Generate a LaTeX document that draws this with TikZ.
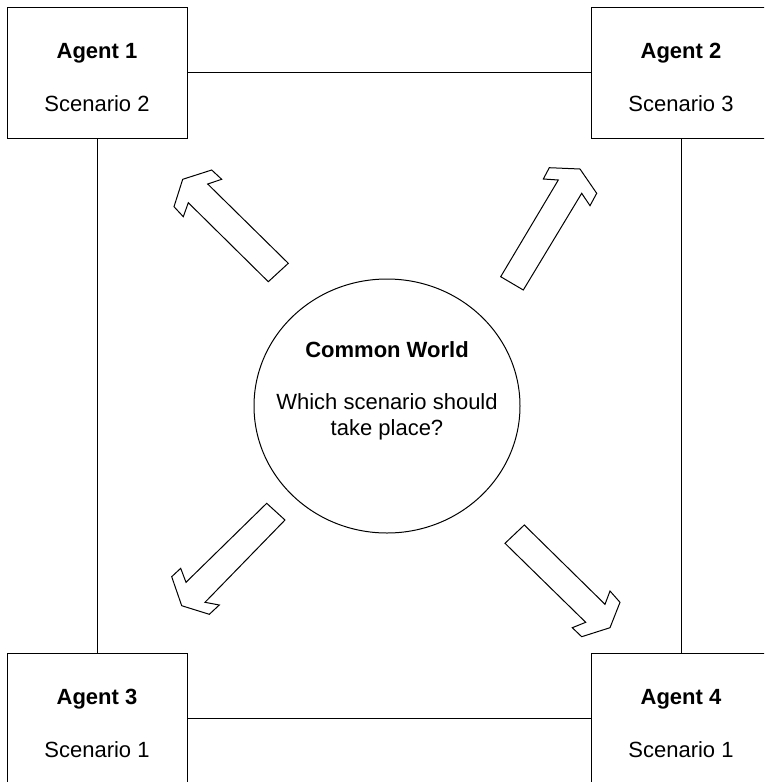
\documentclass[tikz,border=0pt]{standalone}
\usepackage{fontspec}
\setmainfont{Liberation Sans}
\begin{document}
\begin{tikzpicture}[x=1pt,y=-1pt,line width=1pt,
  agentbox/.style={draw,rectangle,minimum width=180pt,minimum height=131pt,inner sep=0pt},
  title/.style={anchor=base,font=\fontsize{22}{26}\selectfont\bfseries},
  sublabel/.style={anchor=base,font=\fontsize{22}{26}\selectfont},
  blockarrow/.style={draw,line width=1pt,line join=miter}]
\useasboundingbox (0,0) rectangle (764,782);
\clip (0,0) rectangle (764,782);

% agent boxes
\node[agentbox] (a1) at (97,72.5) {};
\node[agentbox] (a2) at (681,72.5) {};
\node[agentbox] (a3) at (97,718.5) {};
\node[agentbox] (a4) at (681,718.5) {};

\node[title] (t1) at (97,58) {Agent 1};
\node[sublabel] (s1) at (97,111) {Scenario 2};
\node[title] (t2) at (681,58) {Agent 2};
\node[sublabel] (s2) at (681,111) {Scenario 3};
\node[title] (t3) at (97,704) {Agent 3};
\node[sublabel] (s3) at (97,757) {Scenario 1};
\node[title] (t4) at (681,704) {Agent 4};
\node[sublabel] (s4) at (681,757) {Scenario 1};

% links between the agents
\draw (a1.east) -- (a2.west);
\draw (a3.east) -- (a4.west);
\draw (a1.south) -- (a3.north);
\draw (a2.south) -- (a4.north);

% common world
\draw (387,406) ellipse [x radius=133, y radius=127];
\node[title] (cw) at (387,357) {Common World};
\node[sublabel] (q1) at (387,409) {Which scenario should};
\node[sublabel] (q2) at (387,435) {take place?};

% block arrows out of the common world
\draw[blockarrow] (288.3,263.3) -- (207.7,184) -- (221.7,179.3) -- (211.7,170)
  -- (182.7,179.3) -- (174,206.7) -- (183.3,216.7) -- (188.3,202.7) -- (268.3,281.7) -- cycle;
\draw[blockarrow] (523.3,290) -- (581.7,193.3) -- (590,205.7) -- (596.7,193.3)
  -- (580,169) -- (549.3,167.7) -- (543.3,179) -- (558.3,180) -- (500.7,276.7) -- cycle;
\draw[blockarrow] (266.7,503.3) -- (285,520) -- (205,602.3) -- (219.3,605)
  -- (209.3,614.3) -- (181.7,605.7) -- (171.7,576.7) -- (180.7,568.3) -- (186,582.3) -- cycle;
\draw[blockarrow] (524.3,525) -- (605,604.3) -- (610,591) -- (620,602.3)
  -- (610,627.7) -- (581.7,636.7) -- (572.3,627.7) -- (585.7,622.3) -- (505,543.3) -- cycle;
\end{tikzpicture}
\end{document}
